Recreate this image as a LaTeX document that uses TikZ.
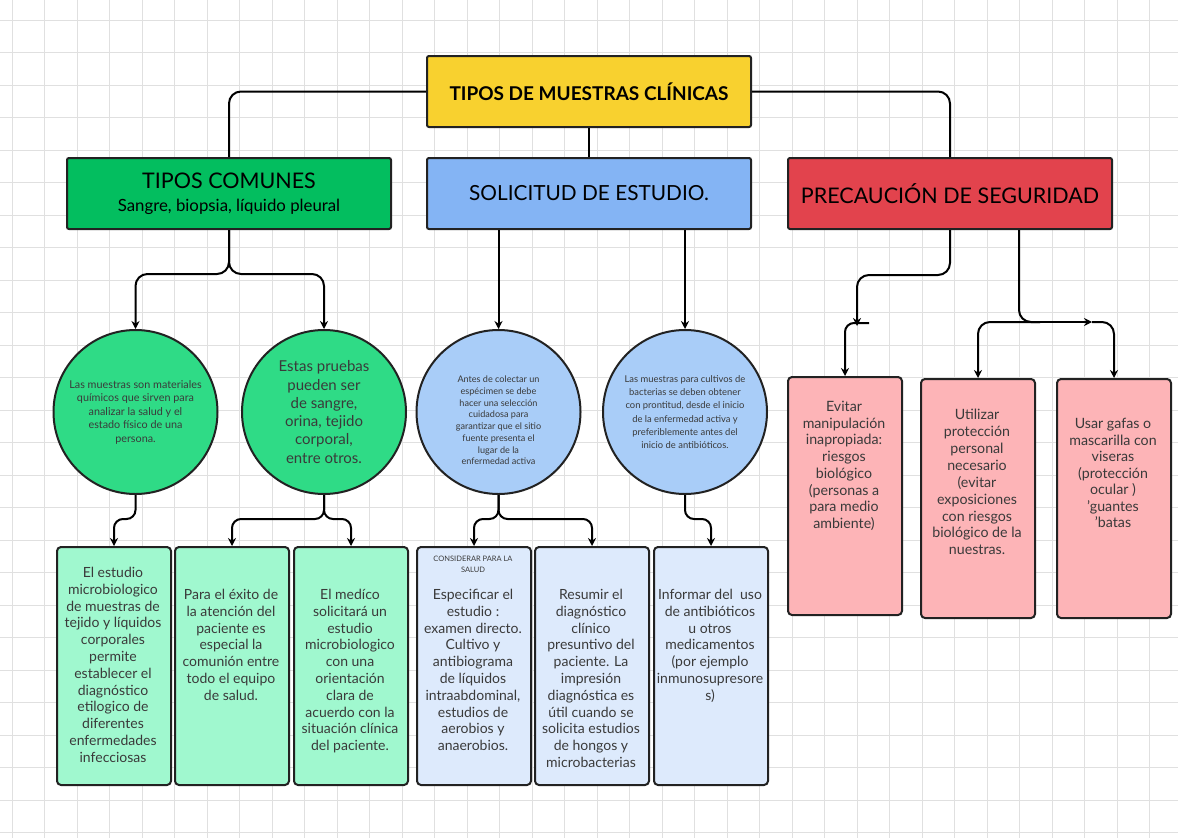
\documentclass[tikz,border=0pt]{standalone}
\usepackage{fontspec}
\setmainfont{Lato}
\usetikzlibrary{arrows.meta,calc}
\definecolor{cTitle}{HTML}{F8D12F}
\definecolor{cGreenH}{HTML}{03BE5F}
\definecolor{cBlueH}{HTML}{84B4F4}
\definecolor{cRedH}{HTML}{E2434D}
\definecolor{cGreenC}{HTML}{2FDB86}
\definecolor{cBlueC}{HTML}{A9CDF8}
\definecolor{cGreenB}{HTML}{A0F8CF}
\definecolor{cBlueB}{HTML}{DDEAFC}
\definecolor{cPink}{HTML}{FDB4B7}
\definecolor{cBorder}{HTML}{222222}
\definecolor{cText}{HTML}{3A3A3A}
\begin{document}
\begin{tikzpicture}[x=1pt,y=-1pt,
  gridc/.style={draw=black!12, line width=0.7pt},
  conn/.style={draw=black, line width=2pt, rounded corners=12pt},
  arr/.style={conn, -{Stealth[length=8pt,width=8pt]}},
  hdr/.style={draw=cBorder, line width=2pt, rounded corners=2pt, anchor=north west, inner sep=0pt, minimum width=324pt, minimum height=71pt, align=center},
  circ/.style={circle, draw=cBorder, line width=2pt, minimum size=164pt, inner sep=0pt, align=center, text=cText},
  rbox/.style={draw=cBorder, line width=2pt, rounded corners=4pt, anchor=north west, inner sep=0pt, minimum width=114pt, minimum height=238pt},
  txt/.style={align=center, inner sep=0pt, text=cText, anchor=north, font=\fontsize{14}{16.8}\selectfont},
  htxt/.style={font=\fontsize{21.2}{24}\selectfont}
]
\useasboundingbox (0,0) rectangle (1178,838);
\fill[white] (0,0) rectangle (1178,838);
\foreach \i in {0,...,36} \draw[gridc] (\i*32.5+12,0) -- (\i*32.5+12,838);
\foreach \j in {0,...,26} \draw[gridc] (0,\j*32.5+20) -- (1178,\j*32.5+20);

% top level
\node[hdr, fill=cTitle, font=\bfseries\fontsize{19}{22}\selectfont] (title) at (426,55) {TIPOS DE MUESTRAS CLÍNICAS};
\node[hdr, fill=cGreenH] (green) at (66,157) {{\fontsize{21.5}{24}\selectfont TIPOS COMUNES}\\[9pt]{\fontsize{16.8}{18}\selectfont Sangre, biopsia, líquido pleural}};
\node[hdr, fill=cBlueH, font=\fontsize{20.8}{24}\selectfont] (blue) at (426,157) {SOLICITUD DE ESTUDIO.};
\node[hdr, fill=cRedH, font=\fontsize{21.5}{24}\selectfont] (red) at (787,157) {PRECAUCIÓN DE SEGURIDAD};

% circles
\node[circ, fill=cGreenC, font=\fontsize{10.8}{13.5}\selectfont] (c1) at (135.5,412) {Las muestras son materiales\\químicos que sirven para\\analizar la salud y el\\estado físico de una\\persona.};
\node[circ, fill=cGreenC, font=\fontsize{15}{18.3}\selectfont] (c2) at (324,412) {Estas pruebas\\pueden ser\\de sangre,\\orina, tejido\\corporal,\\entre otros.};
\node[circ, fill=cBlueC, font=\fontsize{9.1}{11.7}\selectfont] (c3) at (498.5,412) {\\[12pt]Antes de colectar un\\espécimen se debe\\hacer una selección\\cuidadosa para\\garantizar que el sitio\\fuente presenta el\\lugar de la\\enfermedad activa};
\node[circ, fill=cBlueC, font=\fontsize{9.4}{13.3}\selectfont] (c4) at (685,412) {Las muestras para cultivos de\\bacterias se deben obtener\\con prontitud, desde el inicio\\de la enfermedad activa y\\preferiblemente antes del\\inicio de antibióticos.};

% bottom boxes
\node[rbox, fill=cGreenB] (b1) at (56,546) {};
\node[rbox, fill=cGreenB] (b2) at (174,546) {};
\node[rbox, fill=cGreenB] (b3) at (293,546) {};
\node[rbox, fill=cBlueB] (b4) at (416,546) {};
\node[rbox, fill=cBlueB] (b5) at (534,546) {};
\node[rbox, fill=cBlueB] (b6) at (653,546) {};
\node[txt] (t1) at (113,567) {El estudio\\microbiologico\\de muestras de\\tejido y líquidos\\corporales\\permite\\establecer el\\diagnóstico\\etilogico de\\diferentes\\enfermedades\\infecciosas};
\node[txt] (t2) at (231,589) {Para el éxito de\\la atención del\\paciente es\\especial la\\comunión entre\\todo el equipo\\de salud.};
\node[txt] (t3) at (350,589) {El medíco\\solicitará un\\estudio\\microbiologico\\con una\\orientación\\clara de\\acuerdo con la\\situación clínica\\del paciente.};
\node[txt, font=\fontsize{7.5}{11}\selectfont] (t4a) at (473,556) {CONSIDERAR PARA LA\\SALUD};
\node[txt] (t4) at (473,589) {Especificar el\\estudio :\\examen directo.\\Cultivo y\\antibiograma\\de líquidos\\intraabdominal,\\estudios de\\aerobios y\\anaerobios.};
\node[txt] (t5) at (591,589) {Resumir el\\diagnóstico\\clínico\\presuntivo del\\paciente. La\\impresión\\diagnóstica es\\útil cuando se\\solicita estudios\\de hongos y\\microbacterias};
\node[txt] (t6) at (710,589) {Informar del~ uso\\de antibióticos\\u otros\\medicamentos\\(por ejemplo\\inmunosupresore\\s)};

% red boxes
\node[rbox, fill=cPink] (r1) at (787,376) {};
\node[rbox, fill=cPink, minimum height=239pt] (r2) at (920,378) {};
\node[rbox, fill=cPink, minimum height=239pt] (r3) at (1056,378) {};
\node[txt, font=\fontsize{14.2}{16.7}\selectfont] (s1) at (844,401) {Evitar\\manipulación\\inapropiada:\\riesgos\\biológico\\(personas a\\para medio\\ambiente)};
\node[txt, font=\fontsize{14.2}{16.9}\selectfont] (s2) at (977,409) {Utilizar\\protección\\personal\\necesario\\(evitar\\exposiciones\\con riesgos\\biológico de la\\nuestras.};
\node[txt, font=\fontsize{14.2}{16.5}\selectfont] (s3) at (1113,418) {Usar gafas o\\mascarilla con\\viseras\\(protección\\ocular )\\'guantes\\'batas};

% connectors top
\draw[conn] (title.west) -| (green.north);
\draw[conn] (title.east) -| (red.north);
\draw[conn] (title.south) -- (blue.north);

% green header to circles
\draw[arr] (green.south) -- ++(0,44) -| (c1.north);
\draw[arr] (green.south) -- ++(0,44) -| (c2.north);
% blue header to circles
\draw[arr] (c3.north |- blue.south) -- (c3.north);
\draw[arr] (c4.north |- blue.south) -- (c4.north);

% circles to boxes
\draw[arr, rounded corners=9pt] (c1.south) -- ++(0,24) -| (b1.north);
\draw[arr, rounded corners=9pt] (c2.south) -- ++(0,24) -| (b2.north);
\draw[arr, rounded corners=9pt] (c2.south) -- ++(0,24) -| (b3.north);
\draw[arr, rounded corners=9pt] (c3.south) -- ++(0,24) -| (b4.north);
\draw[arr, rounded corners=9pt] (c3.south) -- ++(0,24) -| (b5.north);
\draw[arr, rounded corners=9pt] (c4.south) -- ++(0,24) -| (b6.north);

% red header connectors
\coordinate (ra) at (857,326);
\coordinate (rb) at (869,323);
\coordinate (rj) at (1040,322);
\coordinate (rk) at (1092,322);
\draw[arr] (red.south) -- ++(0,45) -| (ra);
\draw[arr, rounded corners=9pt] (rb) -| (r1.north);
\draw[conn] ($(red.south)+(69,0)$) |- (rj);
\draw[arr] (rj) -| (r2.north);
\draw[arr] (rj) -- (rk);
\draw[arr] (rk) -| (r3.north);
\end{tikzpicture}
\end{document}
